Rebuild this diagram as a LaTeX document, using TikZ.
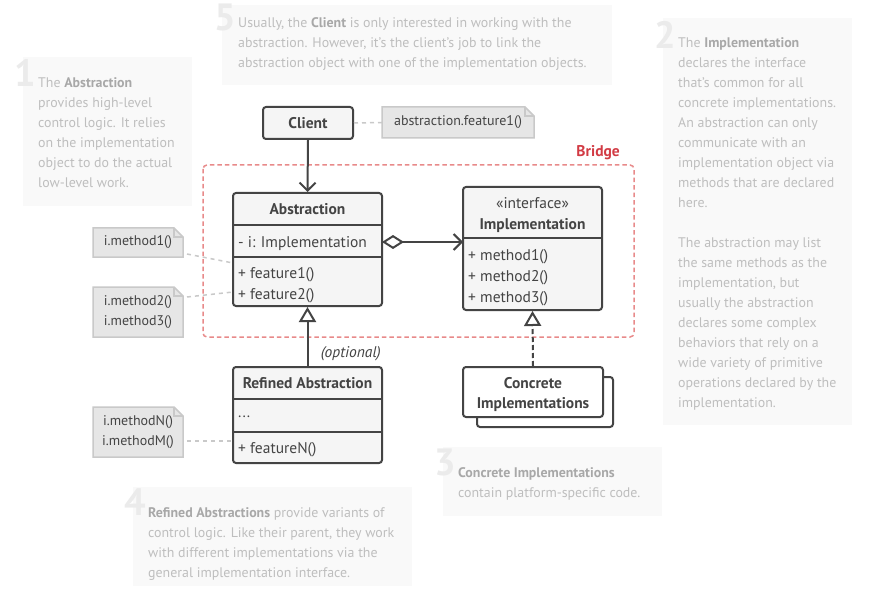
\documentclass[tikz,border=0pt]{standalone}
\usepackage{fontspec}
\setmainfont{PT Sans}
\usetikzlibrary{arrows.meta}
\definecolor{dk}{HTML}{444444}
\definecolor{boxfill}{HTML}{F5F5F5}
\definecolor{notefill}{HTML}{E6E6E6}
\definecolor{noteline}{HTML}{C9C9C9}
\definecolor{cfill}{HTML}{F9F9F9}
\definecolor{ctext}{HTML}{BEBEBE}
\definecolor{cbold}{HTML}{A8A8A8}
\definecolor{cdigit}{HTML}{EBEBEB}
\definecolor{bridgeline}{HTML}{E88A8A}
\definecolor{bridgetext}{HTML}{D23B44}
\tikzset{
  x=1pt,y=-1pt,
  umlbox/.style={draw=dk,line width=2pt,fill=boxfill,rounded corners=3pt,inner sep=0pt},
  umltxt/.style={font=\fontsize{15.5}{18}\selectfont,text=dk,inner sep=0pt},
  umlrow/.style={umltxt,anchor=west,yshift=-2.5pt},
  umlbold/.style={umltxt,font=\fontsize{15.5}{20}\selectfont\bfseries},
  notetxt/.style={font=\fontsize{14}{20}\selectfont,text=dk,inner sep=0pt,align=center},
  cmt/.style={fill=cfill,draw=none,inner sep=0pt},
  cmttxt/.style={font=\fontsize{13.9}{20}\selectfont,text=ctext,inner sep=0pt,align=left,anchor=north west},
  digit/.style={font=\fontsize{38}{38}\selectfont\bfseries,text=cdigit,inner sep=0pt,anchor=north west},
  conn/.style={draw=noteline,line width=1.5pt,dash pattern=on 4pt off 4pt},
  dkline/.style={draw=dk,line width=2pt},
}
\newcommand{\bb}[1]{\textcolor{cbold}{\bfseries #1}}
\newcommand{\notebox}[6]{%
  \node[inner sep=0pt,minimum width={#4-#2},minimum height={#5-#3}] (#1) at ({(#2+#4)/2},{(#3+#5)/2}) {};
  \draw[fill=notefill,draw=noteline,line width=1.5pt] (#2,#3) -- ({#4-9},#3) -- (#4,{#3+9}) -- (#4,#5) -- (#2,#5) -- cycle;
  \draw[draw=noteline,line width=1.5pt] ({#4-9},#3) -- ({#4-9},{#3+9}) -- (#4,{#3+9});
  \node[notetxt] (#1t) at (#1.center) {#6};
}
\begin{document}
\begin{tikzpicture}
\useasboundingbox[fill=white] (0,0) rectangle (879,591);

% ---- comment boxes ----
\node[cmt,minimum width=390pt,minimum height=80pt] (c5) at (417,45) {};
\node[digit] (d5) at (214,4) {5};
\node[cmttxt] (c5t) at (238,17) {Usually, the \bb{Client} is only interested in working with the\\abstraction. However, it's the client's job to link the\\abstraction object with one of the implementation objects.};

\node[cmt,minimum width=169pt,minimum height=149pt] (c1) at (107.5,131.5) {};
\node[digit] (d1) at (14,59) {1};
\node[cmttxt] (c1t) at (38,77) {The \bb{Abstraction}\\provides high-level\\control logic. It relies\\on the implementation\\object to do the actual\\low-level work.};

\node[cmt,minimum width=189pt,minimum height=407pt] (c2) at (757.5,221.5) {};
\node[digit] (d2) at (654,21) {2};
\node[cmttxt] (c2t) at (678,37) {The \bb{Implementation}\\declares the interface\\that's common for all\\concrete implementations.\\An abstraction can only\\communicate with an\\implementation object via\\methods that are declared\\here.\\[20pt]The abstraction may list\\the same methods as the\\implementation, but\\usually the abstraction\\declares some complex\\behaviors that rely on a\\wide variety of primitive\\operations declared by the\\implementation.};

\node[cmt,minimum width=219pt,minimum height=69pt] (c3) at (552.5,481.5) {};
\node[digit] (d3) at (434,449) {3};
\node[cmttxt] (c3t) at (458,467) {\bb{Concrete Implementations}\\contain platform-specific code.};

\node[cmt,minimum width=279pt,minimum height=99pt] (c4) at (272.5,536.5) {};
\node[digit] (d4) at (124,489) {4};
\node[cmttxt] (c4t) at (148,507) {\bb{Refined Abstractions} provide variants of\\control logic. Like their parent, they work\\with different implementations via the\\general implementation interface.};

% ---- bridge ----
\draw[draw=bridgeline,line width=1.5pt,dash pattern=on 4.5pt off 3pt,rounded corners=4pt] (203,165) rectangle (634,337);
\node[font=\fontsize{15.5}{16}\selectfont\bfseries,text=bridgetext,inner sep=0pt,anchor=base east] (bridge) at (620,157) {Bridge};

% ---- client ----
\node[umlbox,minimum width=90pt,minimum height=32pt] (client) at (308,123) {};
\node[umlbold] (clientt) at (client.center) {Client};
\notebox{nclient}{382}{107}{534}{138}{abstraction.feature1()}
\draw[conn] (client.east) -- (nclient.west);

% ---- abstraction ----
\node[umlbox,minimum width=149pt,minimum height=113pt] (abs) at (307.5,249.5) {};
\draw[dkline] (233,225) -- (382,225) (233,257) -- (382,257);
\node[umlbold] (abst) at (307.5,209) {Abstraction};
\node[umlrow] (absf) at (238,241) {- i: Implementation};
\node[umlrow] (absm1) at (238,272) {+ feature1()};
\node[umlrow] (absm2) at (238,293) {+ feature2()};

% ---- implementation ----
\node[umlbox,minimum width=139pt,minimum height=123pt] (impl) at (532.5,248.5) {};
\draw[dkline] (463,238) -- (602,238);
\node[umltxt] (implst) at (532.5,203) {«interface»};
\node[umlbold] (implt) at (532.5,225.5) {Implementation};
\node[umlrow] (implm1) at (468,254) {+ method1()};
\node[umlrow] (implm2) at (468,275) {+ method2()};
\node[umlrow] (implm3) at (468,296) {+ method3()};

% ---- refined abstraction ----
\node[umlbox,minimum width=149pt,minimum height=96pt] (ref) at (307.5,415) {};
\draw[dkline] (233,399) -- (382,399) (233,432) -- (382,432);
\node[umlbold] (reft) at (307.5,383) {Refined Abstraction};
\node[umlrow] (reff) at (238,414) {...};
\node[umlrow] (refm) at (238,447) {+ featureN()};
\node[font=\fontsize{15.5}{16}\selectfont\itshape,text=dk,inner sep=0pt,anchor=base east] (opt) at (381,357) {(optional)};

% ---- concrete implementations ----
\node[draw=dk,line width=2pt,fill=white,rounded corners=3pt,minimum width=136pt,minimum height=50pt] (concb) at (545,402) {};
\node[draw=dk,line width=2pt,fill=white,rounded corners=3pt,minimum width=140pt,minimum height=50pt,inner sep=0pt] (conc) at (533,392) {};
\node[umlbold,align=center,font=\fontsize{15.5}{20}\selectfont\bfseries] (conct) at (533,394.5) {Concrete\\Implementations};

% ---- notes ----
\notebox{n1}{93}{228}{183}{257}{i.method1()}
\notebox{n2}{93}{287}{183}{337}{i.method2()\\i.method3()}
\notebox{nN}{93}{407}{183}{457}{i.methodN()\\i.methodM()}
\coordinate (f1) at (233,263);
\coordinate (f2) at (233,292);
\coordinate (fN) at (233,441);
\draw[conn] (187,254) -- (f1);
\draw[conn] (187,297) -- (f2);
\draw[conn] (187,441) -- (fN);

% ---- relations ----
\draw[dkline,-{Straight Barb[length=8pt,width=16pt,line width=2pt]}] (client.south) -- (abs.north);
\coordinate (aggs) at (382,242);
\coordinate (agge) at (463,242);
\draw[dkline,{Diamond[open,fill=white,length=22pt,width=14pt,line width=2pt]}-{Straight Barb[length=8pt,width=16pt,line width=2pt]}] (aggs) -- (agge);
\draw[dkline,-{Triangle[open,fill=white,length=15pt,width=17pt,line width=2pt]}] (ref.north) -- (abs.south);
\draw[dkline,dash pattern=on 5pt off 3pt,-{Triangle[open,fill=white,length=15pt,width=17pt,line width=2pt]}] (conc.north) -- (impl.south);

\end{tikzpicture}
\end{document}
